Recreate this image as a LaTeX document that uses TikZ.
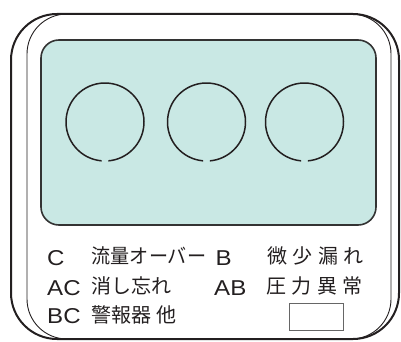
\documentclass[tikz,border=0pt]{standalone}
\usepackage{fontspec}
\usepackage{graphicx}
\newfontfamily\jp{Noto Sans CJK JP}
\newfontfamily\lat{Liberation Sans}
\newcommand{\widetxt}[1]{\scalebox{1.12}[1]{#1}}
\definecolor{ink}{HTML}{231F20}
\definecolor{panelfill}{HTML}{C9E8E4}
\definecolor{paneledge}{HTML}{333333}
\begin{document}
\begin{tikzpicture}[x=1pt,y=-1pt,
  frameouter/.style={draw=ink, line width=2pt, rounded corners=46pt},
  frameinner/.style={draw=ink, line width=0.9pt, rounded corners=40pt},
  panel/.style={draw=paneledge, fill=panelfill, line width=1.6pt, rounded corners=18pt},
  ring/.style={draw=ink, line width=1.5pt},
  latlbl/.style={inner sep=0pt, anchor=base west, text=ink, font=\lat\fontsize{21.5}{21.5}\selectfont},
  jplbl/.style={inner sep=0pt, anchor=base west, text=ink, font=\jp\fontsize{20}{20}\selectfont},
  smallbox/.style={draw=black!60, line width=0.8pt}]
\useasboundingbox (0,0) rectangle (401,342);
% frame
\draw[frameouter] (11,14) rectangle (399,339);
\draw[frameinner] (27,14) rectangle (391,339);
% panel
\draw[panel] (41,40) rectangle (376,225);
% rings
\draw[ring] ([shift={(95:39)}]105,122) arc[start angle=95, end angle=445, radius=39];
\draw[ring] ([shift={(95:39)}]206.5,122) arc[start angle=95, end angle=445, radius=39];
\draw[ring] ([shift={(95:39)}]304.5,122) arc[start angle=95, end angle=445, radius=39];
% labels
\node[latlbl] (c)  at (47,265) {\widetxt{C}};
\node[jplbl] (ct) at (91.5,263.5) {\scalebox{0.955}[1]{流量オーバー}};
\node[latlbl] (b)  at (215.5,265) {\widetxt{B}};
\node[jplbl] (bt) at (267,263.5) {微\hspace{5.5pt}少\hspace{5.5pt}漏\hspace{5.5pt}れ};
\node[latlbl] (ac) at (47,295) {\widetxt{AC}};
\node[jplbl] (act) at (91.5,293.5) {消し忘れ};
\node[latlbl] (ab) at (214,295) {\widetxt{AB}};
\node[jplbl] (abt) at (266,293.5) {圧\hspace{5.5pt}力\hspace{5.5pt}異\hspace{5.5pt}常};
\node[latlbl] (bc) at (47,323.3) {\widetxt{BC}};
\node[jplbl] (bct) at (91.5,322) {警報器 他};
% small box
\draw[smallbox] (289,303) rectangle (343,330);
\end{tikzpicture}
\end{document}
